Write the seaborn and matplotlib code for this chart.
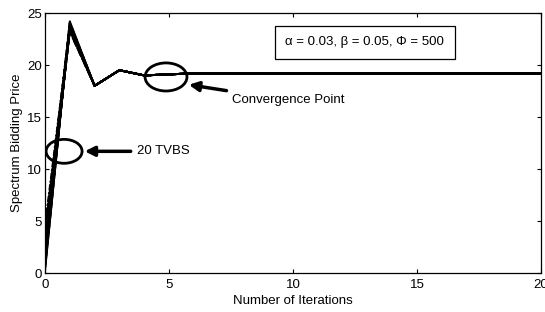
import numpy as np
import pandas as pd
import seaborn as sns
from matplotlib import pyplot as plt
from matplotlib.patches import Ellipse

# iterations 0..20
iterations = list(range(21))
# starting bids of the 20 TVBS at iteration 0
start_bids = [0.2, 0.5, 0.8, 1.0, 1.3, 1.6, 1.9, 2.2, 2.5, 2.8,
              3.1, 3.4, 3.7, 4.0, 4.3, 4.6, 0.4, 1.1, 2.0, 3.0]
# bids after the first iteration
peak_bids = [24.2, 24.0, 23.9, 23.8, 23.7, 23.6, 23.5, 23.4, 23.3, 23.2,
             24.1, 23.9, 23.7, 23.5, 23.3, 23.6, 24.0, 23.8, 23.4, 23.2]
# common path from iteration 2 on
tail_bids = [18.0, 19.5, 19.0, 19.1, 19.2, 19.2, 19.2, 19.2, 19.2, 19.2,
             19.2, 19.2, 19.2, 19.2, 19.2, 19.2, 19.2, 19.2, 19.2]

rows = []
for k in range(len(start_bids)):
    prices = [start_bids[k], peak_bids[k]] + tail_bids
    for it, p in zip(iterations, prices):
        rows.append([k, it, p])
df = pd.DataFrame(rows, columns=["TVBS", "Iteration", "Price"])

sns.set_style("ticks")
plt.rcParams["font.family"] = ["Liberation Sans", "DejaVu Sans"]
plt.rcParams["font.size"] = 9.5
plt.rcParams["text.color"] = "black"
plt.rcParams["axes.labelcolor"] = "black"
plt.rcParams["xtick.color"] = "black"
plt.rcParams["ytick.color"] = "black"
plt.rcParams["axes.edgecolor"] = "black"
plt.rcParams["xtick.direction"] = "in"
plt.rcParams["ytick.direction"] = "in"

fig = plt.figure(figsize=(5.45, 3.12), dpi=100)
ax = fig.add_axes([45 / 545, 39 / 312, 496 / 545, 260 / 312])

dash_list = [(1, 0), (4, 2), (1, 1), (3, 1, 1, 1)] * 5
sns.lineplot(data=df, x="Iteration", y="Price", hue="TVBS", style="TVBS",
             palette=["black"] * 20, dashes=dash_list, linewidth=1.4,
             legend=False, ax=ax)

ax.set_xlim(0, 20)
ax.set_ylim(0, 25)
ax.set_xticks([0, 5, 10, 15, 20])
ax.set_yticks([0, 5, 10, 15, 20, 25])
ax.tick_params(top=True, right=True, length=3, width=0.8, labelsize=9.5)
ax.tick_params(axis="x", pad=4)
ax.tick_params(axis="y", pad=2)
for s in ax.spines.values():
    s.set_linewidth(0.9)
ax.set_xlabel("Number of Iterations", fontsize=9.5, labelpad=3)
ax.set_ylabel("Spectrum Bidding Price", fontsize=9.5, labelpad=3)

# annotations
ax.add_patch(Ellipse((0.77, 11.7), 1.45, 2.3, fill=False, lw=2, color="black"))
ax.add_patch(Ellipse((4.88, 18.85), 1.69, 2.7, fill=False, lw=2, color="black"))
ax.annotate("20 TVBS", xy=(1.6, 11.7), xytext=(3.7, 11.7), va="center",
            arrowprops=dict(arrowstyle="-|>,head_length=0.6,head_width=0.3",
                            color="black", lw=2.5, shrinkB=0))
ax.annotate("Convergence Point", xy=(5.8, 18.1), xytext=(7.55, 16.6), va="center",
            arrowprops=dict(arrowstyle="-|>,head_length=0.6,head_width=0.3",
                            color="black", lw=2.5, shrinkB=0))
ax.text(12.9, 22.2, "\u03b1 = 0.03, \u03b2 = 0.05, \u03a6 = 500", ha="center", va="center",
        bbox=dict(boxstyle="square,pad=0.8", fc="white", ec="black", lw=0.9))

plt.savefig("out.png", dpi=100)
